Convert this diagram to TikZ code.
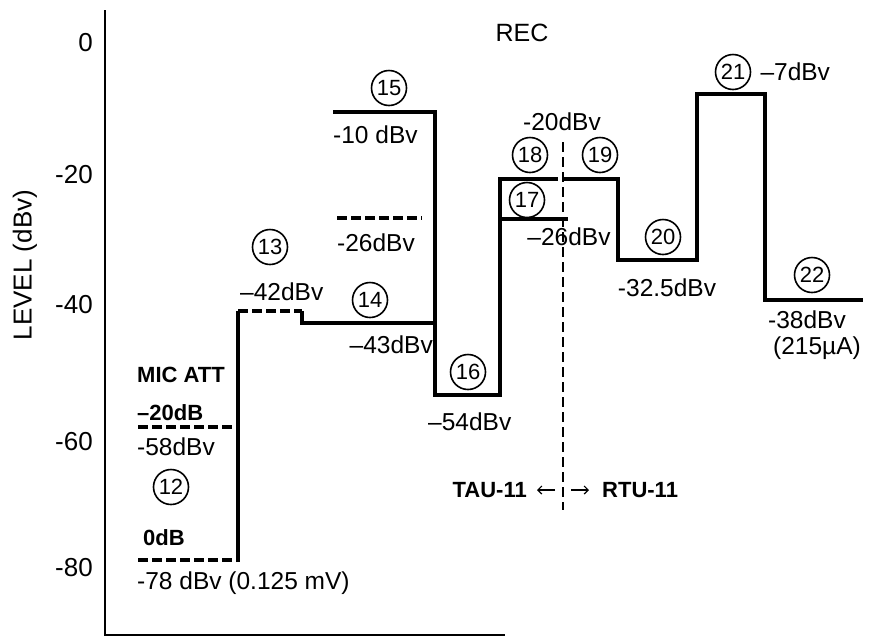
\documentclass[tikz,border=0pt]{standalone}
\usepackage{fontspec}
\setmainfont{Liberation Sans}
\usetikzlibrary{positioning, calc, arrows.meta}

\begin{document}
\begin{tikzpicture}
    [x=1pt, y=-1pt,
    numnode/.style={circle, draw=black, line width=1.6pt, inner sep=0pt, minimum size=35pt, font=\fontsize{22}{22}\selectfont},
    levelnode/.style={inner sep=0pt, font=\fontsize{24.5}{24.5}\selectfont},
    ticknode/.style={inner sep=0pt, anchor=east, font=\fontsize{26}{26}\selectfont},
    boldnode/.style={inner sep=0pt, font=\fontsize{22}{22}\selectfont\bfseries},
    trace/.style={line width=4pt},
    dashtrace/.style={line width=3.5pt, dash pattern=on 10pt off 4pt},]

    \useasboundingbox (0,0) rectangle (896,638);

    %Axes
    \draw[line width=2.8pt] (105,10) -- (105,635) -- (505,635);
    \foreach \v/\y in {0/43, -20/175, -40/305, -60/442, -80/568}
        \node[ticknode](tick\v) at (93,\y){\v};
    \node[rotate=90, inner sep=0pt, font=\fontsize{26}{26}\selectfont](ylabel) at (25,265){LEVEL (dBv)};
    \node[inner sep=0pt, font=\fontsize{25}{25}\selectfont](rec) at (522,33){REC};

    %Trace
    \draw[dashtrace] (138,560) -- (238,560);
    \draw[dashtrace] (138,427) -- (238,427);
    \draw[trace] (238,562) -- (238,311);
    \draw[dashtrace] (238,311) -- (302,311);
    \draw[trace] (302,311) -- (302,323) -- (435,323);
    \draw[dashtrace] (337,218) -- (422,218);
    \draw[trace] (333,112) -- (435,112) -- (435,395) -- (500,395) -- (500,179) -- (548,179);
    \draw[trace] (500,219) -- (568,219);
    \draw[dashtrace] (548,179) -- (572,179);
    \draw[trace] (572,179) -- (618,179) -- (618,260) -- (697,260) -- (697,94) -- (765,94) -- (765,300) -- (863,300);

    %Divider
    \coordinate(divtop) at (563,142);
    \coordinate(divbot) at (563,510);
    \draw[line width=2pt, dash pattern=on 10pt off 5pt] (divtop) -- (divbot);

    %Circled numbers
    \node[numnode](n12) at (171,487){12};
    \node[numnode](n13) at (270,247){13};
    \node[numnode](n14) at (370,300){14};
    \node[numnode](n15) at (389,88){15};
    \node[numnode](n16) at (468,372){16};
    \node[numnode](n17) at (527,200){17};
    \node[numnode](n18) at (530,155){18};
    \node[numnode](n19) at (600,155){19};
    \node[numnode](n20) at (663,237){20};
    \node[numnode](n21) at (733,72){21};
    \node[numnode](n22) at (812,275){22};

    %Levels
    \node[boldnode, anchor=west](micatt) at (137,375){MIC ATT};
    \node[boldnode, anchor=west](att20) at (137,413){--20dB};
    \node[levelnode, anchor=west](lev58) at (137,447){-58dBv};
    \node[boldnode, anchor=west](att0) at (143,538){0dB};
    \node[levelnode, anchor=west](lev78) at (137,583){-78 dBv (0.125 mV)};
    \node[levelnode, anchor=west](lev42) at (240,292){--42dBv};
    \node[levelnode, anchor=east](lev43) at (433,345){--43dBv};
    \node[levelnode, anchor=west](lev10) at (333,135){-10 dBv};
    \node[levelnode, anchor=west](lev26a) at (337,243){-26dBv};
    \node[levelnode, anchor=west](lev54) at (428,422){--54dBv};
    \node[levelnode](lev20) at (562,122){-20dBv};
    \node[levelnode](lev26b) at (569,237){--26dBv};
    \node[levelnode](lev32) at (667,288){-32.5dBv};
    \node[levelnode](lev7)[right=9pt of n21]{--7dBv};
    \node[levelnode, anchor=west](lev38) at (768,320){-38dBv};
    \node[levelnode, anchor=west](cur38) at (773,348){(215µA)};

    %Units
    \node[boldnode, anchor=east](tau) at (527,490){TAU-11};
    \node[boldnode, anchor=west](rtu) at (602,490){RTU-11};
    \draw[-{Straight Barb[length=4pt]}, line width=1.2pt] (555,490) -- (tau.east -| 537,0);
    \draw[-{Straight Barb[length=4pt]}, line width=1.2pt] (571,490) -- (rtu.west -| 589,0);

\end{tikzpicture}
\end{document}
